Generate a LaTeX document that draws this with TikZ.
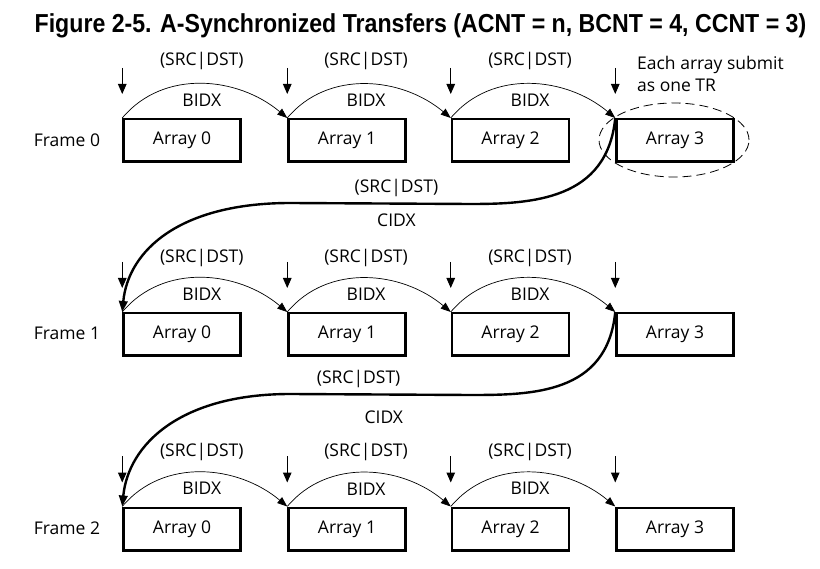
\documentclass[tikz,border=0pt]{standalone}
\usepackage{fontspec}
\setmainfont{Open Sans}
\newfontfamily\titlefont[FakeStretch=0.89]{Liberation Sans}
\usetikzlibrary{arrows.meta,shapes.geometric}
\tikzset{
  array/.style={draw,line width=2.5pt,minimum width=117pt,minimum height=42.5pt,inner sep=0pt},
  frmlabel/.style={inner sep=0pt},
  dnarrow/.style={-{Triangle[length=10pt,width=8.5pt]},line width=1pt},
  bidx/.style={-{Triangle[length=10pt,width=7.5pt]},line width=0.7pt,out=50,in=140},
  cidx/.style={-{Triangle[length=11pt,width=8.5pt]},line width=2.4pt},
  lbl/.style={inner sep=0pt},
}
\begin{document}
\begin{tikzpicture}[x=1pt,y=-1pt,font=\fontsize{17.5}{21}\selectfont]
      \useasboundingbox (0,0) rectangle (820,569);
      \node[font=\titlefont\bfseries\fontsize{26}{30}\selectfont] (title) at (420.5,26)
        {Figure 2-5. A-Synchronized Transfers (ACNT = n, BCNT = 4, CCNT = 3)};
      % frames
      \draw
        (67,140) node[frmlabel] (fr0){Frame 0}
        (67,333) node[frmlabel] (fr1){Frame 1}
        (67,528) node[frmlabel] (fr2){Frame 2};
      \draw
        (182,140.5) node[array] (f0a0){Array 0}
        (347,140.5) node[array] (f0a1){Array 1}
        (510.5,140.5) node[array] (f0a2){Array 2}
        (675,140.5) node[array] (f0a3){Array 3}
        (182,334.5) node[array] (f1a0){Array 0}
        (347,334.5) node[array] (f1a1){Array 1}
        (510.5,334.5) node[array] (f1a2){Array 2}
        (675,334.5) node[array] (f1a3){Array 3}
        (182,529) node[array] (f2a0){Array 0}
        (347,529) node[array] (f2a1){Array 1}
        (510.5,529) node[array] (f2a2){Array 2}
        (675,529) node[array] (f2a3){Array 3};
      % one TR
      \node[draw,ellipse,dash pattern=on 9pt off 5pt,line width=0.8pt,
        minimum width=150pt,minimum height=74pt] (tr) at (674,140) {};
      \node[lbl,anchor=west,align=left,font=\fontsize{17.5}{22}\selectfont] (note) at (637,74)
        {Each array submit\\as one TR};
      % sync events
      \begin{scope}[dnarrow]
        \draw ([yshift=50pt]f0a0.north west) -- ([yshift=24pt]f0a0.north west);
        \draw ([yshift=50pt]f0a1.north west) -- ([yshift=24pt]f0a1.north west);
        \draw ([yshift=50pt]f0a2.north west) -- ([yshift=24pt]f0a2.north west);
        \draw ([yshift=50pt]f0a3.north west) -- ([yshift=24pt]f0a3.north west);
        \draw ([yshift=50pt]f1a0.north west) -- ([yshift=24pt]f1a0.north west);
        \draw ([yshift=50pt]f1a1.north west) -- ([yshift=24pt]f1a1.north west);
        \draw ([yshift=50pt]f1a2.north west) -- ([yshift=24pt]f1a2.north west);
        \draw ([yshift=50pt]f1a3.north west) -- ([yshift=24pt]f1a3.north west);
        \draw ([yshift=50pt]f2a0.north west) -- ([yshift=24pt]f2a0.north west);
        \draw ([yshift=50pt]f2a1.north west) -- ([yshift=24pt]f2a1.north west);
        \draw ([yshift=50pt]f2a2.north west) -- ([yshift=24pt]f2a2.north west);
        \draw ([yshift=50pt]f2a3.north west) -- ([yshift=24pt]f2a3.north west);
      \end{scope}
      % BIDX
      \begin{scope}[bidx]
        \draw (f0a0.north west) to node[lbl,yshift=23pt]{(SRC|DST)} node[lbl,yshift=-16pt]{BIDX} (f0a1.north west);
        \draw (f0a1.north west) to node[lbl,yshift=23pt]{(SRC|DST)} node[lbl,yshift=-16pt]{BIDX} (f0a2.north west);
        \draw (f0a2.north west) to node[lbl,yshift=23pt]{(SRC|DST)} node[lbl,yshift=-16pt]{BIDX} (f0a3.north west);
        \draw (f1a0.north west) to node[lbl,yshift=20pt]{(SRC|DST)} node[lbl,yshift=-16pt]{BIDX} (f1a1.north west);
        \draw (f1a1.north west) to node[lbl,yshift=20pt]{(SRC|DST)} node[lbl,yshift=-16pt]{BIDX} (f1a2.north west);
        \draw (f1a2.north west) to node[lbl,yshift=20pt]{(SRC|DST)} node[lbl,yshift=-16pt]{BIDX} (f1a3.north west);
        \draw (f2a0.north west) to node[lbl,yshift=21pt]{(SRC|DST)} node[lbl,yshift=-16pt]{BIDX} (f2a1.north west);
        \draw (f2a1.north west) to node[lbl,yshift=21pt]{(SRC|DST)} node[lbl,yshift=-16pt]{BIDX} (f2a2.north west);
        \draw (f2a2.north west) to node[lbl,yshift=21pt]{(SRC|DST)} node[lbl,yshift=-16pt]{BIDX} (f2a3.north west);
      \end{scope}
      % CIDX
      \draw[cidx] (f0a3.north west) .. controls +(-8,82) and +(62,0) .. ++(-145,86)
        -- node[lbl,pos=0.41,yshift=16pt]{(SRC|DST)} node[lbl,pos=0.41,yshift=-17pt]{CIDX} ++(-180,-1)
        .. controls +(-110,0) and +(6,-62) .. (f1a0.north west);
      \draw[cidx] (f1a3.north west) .. controls +(-8,82) and +(62,0) .. ++(-145,83)
        -- node[lbl,pos=0.62,yshift=15pt]{(SRC|DST)} node[lbl,pos=0.48,yshift=-23pt]{CIDX} ++(-180,-1)
        .. controls +(-110,0) and +(6,-62) .. (f2a0.north west);
    \end{tikzpicture}
\end{document}
